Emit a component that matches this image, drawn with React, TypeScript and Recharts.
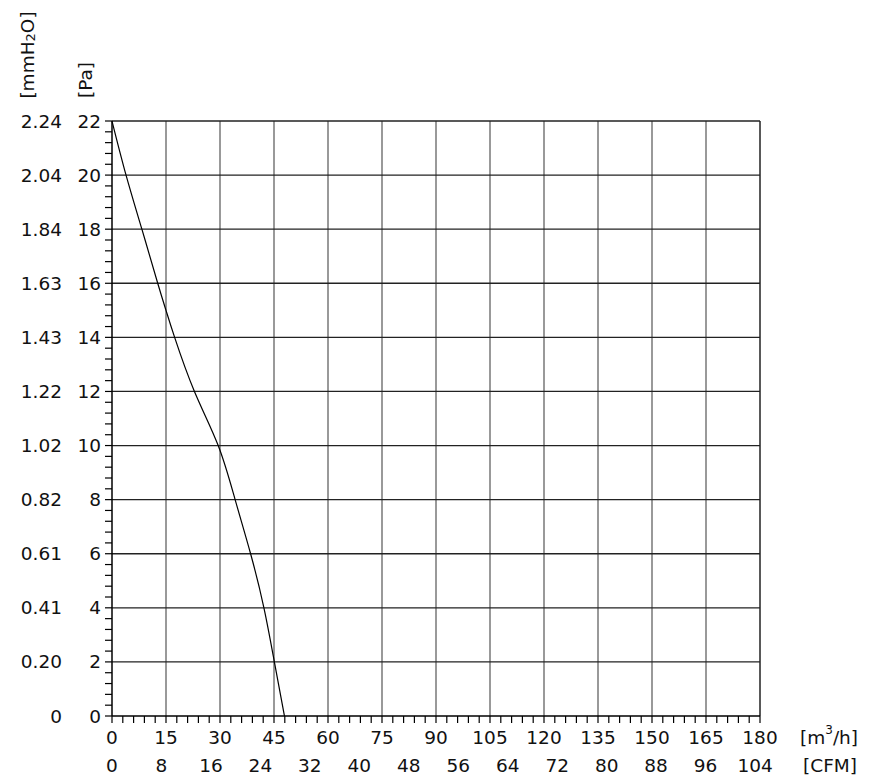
import { LineChart, Line, XAxis, YAxis, ReferenceLine } from "recharts";

// fan curve: flow in m3/h, static pressure in Pa
const flow = [0, 3.9, 8.3, 12.7, 15.0, 17.4, 22.9, 29.5, 34.2, 38.5, 42.2, 45.1, 47.9];
const pressure = [22, 20, 18, 16, 15, 14, 12, 10, 8, 6, 4, 2, 0];

const flowTicks = [0, 15, 30, 45, 60, 75, 90, 105, 120, 135, 150, 165, 180];
const cfmTicks = [0, 8, 16, 24, 32, 40, 48, 56, 64, 72, 80, 88, 96, 104];
const paTicks = [0, 2, 4, 6, 8, 10, 12, 14, 16, 18, 20, 22];
const mmLabels = ["0", "0.20", "0.41", "0.61", "0.82", "1.02", "1.22", "1.43", "1.63", "1.84", "2.04", "2.24"];

const minorX = Array.from({ length: 61 }, (_, i) => i * 3);
const minorY = Array.from({ length: 56 }, (_, i) => +(i * 0.4).toFixed(1));

const data = flow.map((f, i) => ({ flow: f, pa: pressure[i] }));

const font = { fontFamily: "DejaVu Sans, Verdana, sans-serif", fontSize: 18.5, fill: "#111" };

function XTick({ x, y, payload }: any) {
  const v = payload.value;
  const major = flowTicks.includes(v);
  return (
    <g>
      <line x1={x} x2={x} y1={y} y2={y + 7} stroke="#000" strokeWidth={1.2} />
      {major && (
        <text x={x} y={y + 21} textAnchor="middle" dominantBaseline="central" {...font}>{v}</text>
      )}
      {v === 180 && (
        <>
          <text x={x + 40} y={y + 21} dominantBaseline="central" {...font}>
            [m<tspan fontSize={12} dy={-7}>3</tspan><tspan dy={7}>/h]</tspan>
          </text>
          <text x={x + 43} y={y + 49} dominantBaseline="central" {...font}>[CFM]</text>
        </>
      )}
    </g>
  );
}

function CfmTick({ x, y, payload }: any) {
  return (
    <text x={x} y={y + 19} textAnchor="middle" dominantBaseline="central" {...font}>{payload.value}</text>
  );
}

function YTick({ x, y, payload }: any) {
  const v = payload.value;
  const idx = paTicks.indexOf(v);
  return (
    <g>
      <line x1={x - 7} x2={x} y1={y} y2={y} stroke="#000" strokeWidth={1.2} />
      {idx >= 0 && (
        <>
          <text x={x - 11} y={y} textAnchor="end" dominantBaseline="central" {...font}>{v}</text>
          <text x={x - 50} y={y} textAnchor="end" dominantBaseline="central" {...font}>{mmLabels[idx]}</text>
        </>
      )}
      {v === 22 && (
        <>
          <text x={x - 85} y={y - 66} textAnchor="middle" dominantBaseline="central" transform={`rotate(-90, ${x - 85}, ${y - 66})`} {...font}>
            [mmH<tspan fontSize={13} dy={3}>2</tspan><tspan dy={-3}>O]</tspan>
          </text>
          <text x={x - 27} y={y - 41} textAnchor="middle" dominantBaseline="central" transform={`rotate(-90, ${x - 27}, ${y - 41})`} {...font}>[Pa]</text>
        </>
      )}
    </g>
  );
}

export default function App() {
  return (
    <LineChart width={865} height={770} data={data} margin={{ top: 113, right: 113, bottom: 2, left: 4 }}>
      <XAxis
        dataKey="flow"
        type="number"
        domain={[0, 180]}
        ticks={minorX}
        interval={0}
        height={30}
        tickSize={0}
        tickMargin={0}
        tickLine={false}
        axisLine={{ stroke: "#000", strokeWidth: 1.5 }}
        tick={XTick}
      />
      <XAxis
        xAxisId="cfm"
        dataKey="flow"
        type="number"
        domain={[0, 104.8]}
        allowDataOverflow
        ticks={cfmTicks}
        interval={0}
        height={30}
        tickSize={0}
        tickMargin={0}
        tickLine={false}
        axisLine={false}
        tick={CfmTick}
      />
      <YAxis
        type="number"
        domain={[0, 22]}
        ticks={minorY}
        interval={0}
        width={100}
        tickSize={0}
        tickMargin={0}
        tickLine={false}
        axisLine={{ stroke: "#000", strokeWidth: 1.5 }}
        tick={YTick}
      />
      {flowTicks.slice(1).map((v) => (
        <ReferenceLine key={"x" + v} x={v} stroke={v === 180 ? "#222" : "#777"} strokeWidth={1.5} />
      ))}
      {paTicks.slice(1).map((v) => (
        <ReferenceLine key={"y" + v} y={v} stroke="#222" strokeWidth={1.3} />
      ))}
      <Line dataKey="pa" type="natural" stroke="#000" strokeWidth={1.2} dot={false} isAnimationActive={false} />
    </LineChart>
  );
}
